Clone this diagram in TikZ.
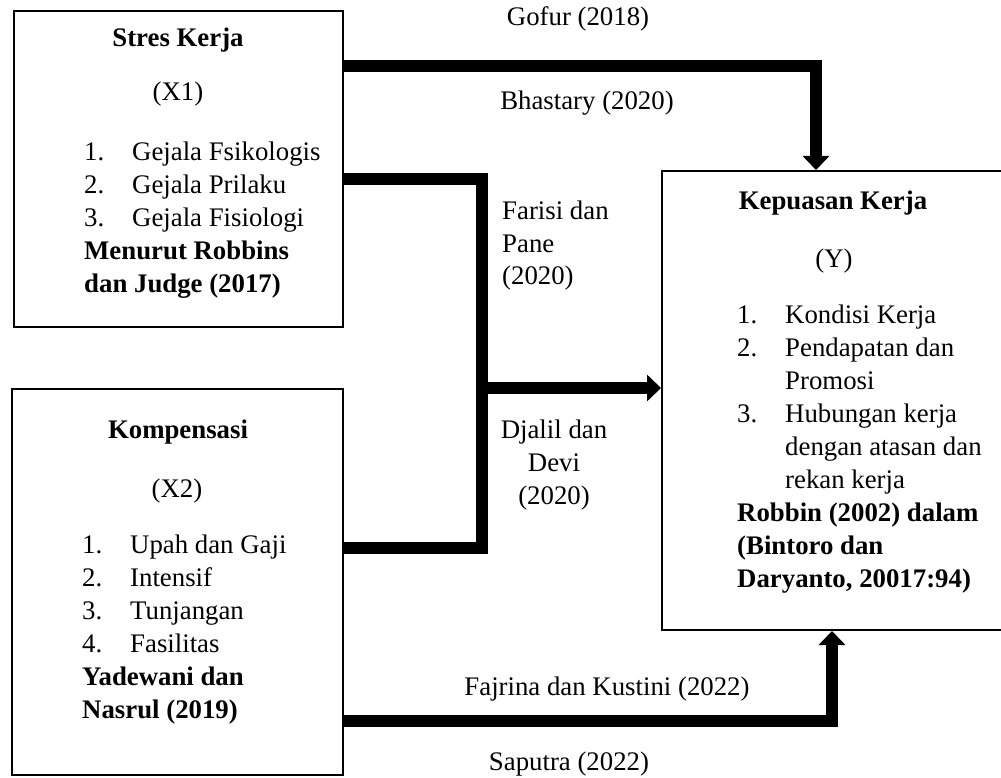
\documentclass[tikz,border=0pt]{standalone}
\usepackage{fontspec}
\setmainfont{Liberation Serif}
\usetikzlibrary{arrows.meta}
\newcommand{\itm}[1]{\makebox[48pt][l]{#1}}
\begin{document}
\begin{tikzpicture}[x=1pt,y=-1pt,
  box/.style={draw, line width=2pt, inner sep=0pt},
  txt/.style={font=\fontsize{26.8}{33}\selectfont, inner sep=0pt},
  ttl/.style={font=\fontsize{26.8}{33}\selectfont\bfseries, inner sep=0pt},
  conn/.style={line width=12pt, line join=miter},
  arr/.style={conn, -{Triangle[length=14pt,width=26pt]}}]
\useasboundingbox (0,0) rectangle (1001,778);
% boxes
\node[box, minimum width=329pt, minimum height=316pt] (x1) at (178.5,169) {};
\node[box, minimum width=331pt, minimum height=386pt] (x2) at (177.5,582) {};
\node[box, minimum width=341pt, minimum height=459pt] (y) at (832.5,400.5) {};
% box 1 text
\node[ttl, anchor=base] (x1t) at (178,47) {Stres Kerja};
\node[txt, anchor=base] (x1s) at (178,101) {(X1)};
\node[txt, anchor=base west] (x1l) at (84,161) {\begin{tabular}[t]{@{}l@{}}\itm{1.}Gejala Fsikologis\\ \itm{2.}Gejala Prilaku\\ \itm{3.}Gejala Fisiologi\\ \textbf{Menurut Robbins}\\ \textbf{dan Judge (2017)}\end{tabular}};
% box 2 text
\node[ttl, anchor=base] (x2t) at (178,438) {Kompensasi};
\node[txt, anchor=base] (x2s) at (177,497) {(X2)};
\node[txt, anchor=base west] (x2l) at (82,553) {\begin{tabular}[t]{@{}l@{}}\itm{1.}Upah dan Gaji\\ \itm{2.}Intensif\\ \itm{3.}Tunjangan\\ \itm{4.}Fasilitas\\ \textbf{Yadewani dan}\\ \textbf{Nasrul (2019)}\end{tabular}};
% box 3 text
\node[ttl, anchor=base] (yt) at (833,210) {Kepuasan Kerja};
\node[txt, anchor=base] (ys) at (834,267) {(Y)};
\node[txt, anchor=base west] (yl) at (737,323) {\begin{tabular}[t]{@{}l@{}}\itm{1.}Kondisi Kerja\\ \itm{2.}Pendapatan dan\\ \itm{}Promosi\\ \itm{3.}Hubungan kerja\\ \itm{}dengan atasan dan\\ \itm{}rekan kerja\\ \textbf{Robbin (2002) dalam}\\ \textbf{(Bintoro dan}\\ \textbf{Daryanto, 20017:94)}\end{tabular}};
% connectors
\coordinate (a1) at (816,66);
\draw[arr] (x1.east |- a1) -- (a1) -- (a1 |- y.north);
\coordinate (b1) at (482,179);
\coordinate (b2) at (482,548);
\coordinate (m) at (482,388);
\draw[conn] (x1.east |- b1) -- (b1) -- (b2) -- (x2.east |- b2);
\draw[arr] (m) -- (m -| y.west);
\coordinate (c1) at (832,721);
\draw[arr] (x2.east |- c1) -- (c1) -- (c1 |- y.south);
% labels
\node[txt, anchor=base] (l1) at (578,26) {Gofur (2018)};
\node[txt, anchor=base] (l2) at (587,110) {Bhastary (2020)};
\node[txt, anchor=base west] (l3) at (502,219) {\begin{tabular}[t]{@{}l@{}}Farisi dan\\ Pane\\ (2020)\end{tabular}};
\node[txt, anchor=base] (l4) at (554,438) {\begin{tabular}[t]{@{}c@{}}Djalil dan\\ Devi\\ (2020)\end{tabular}};
\node[txt, anchor=base] (l5) at (607,695) {Fajrina dan Kustini (2022)};
\node[txt, anchor=base] (l6) at (569,770) {Saputra (2022)};
\end{tikzpicture}
\end{document}
